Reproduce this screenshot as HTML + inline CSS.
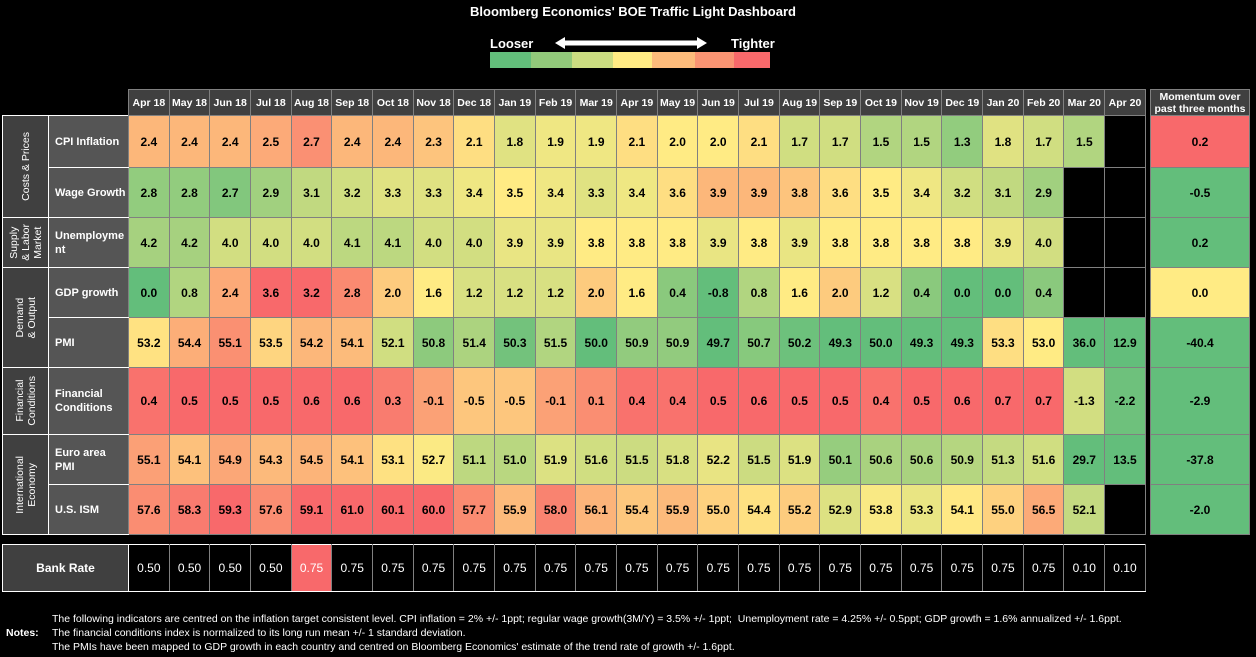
<!DOCTYPE html>
<html><head><meta charset="utf-8">
<style>
body{margin:0;background:#000;width:1256px;height:657px;overflow:hidden;position:relative;font-family:"Liberation Sans",Arial,sans-serif;}
.title{position:absolute;top:4px;left:0;width:1266px;text-align:center;color:#fff;font-weight:bold;font-size:13px;}
.lg{position:absolute;color:#fff;font-weight:bold;font-size:13px;}
table{border-collapse:collapse;position:absolute;table-layout:fixed;}
td{padding:0;text-align:center;font-size:12px;font-weight:bold;color:#000;border:1px solid #808080;overflow:hidden;}
th{padding:0;font-size:10.5px;font-weight:bold;color:#fff;background:#404040;border:1px solid #808080;white-space:nowrap;}
td.g{background:#404040;color:#fff;font-weight:normal;font-size:10.5px;border:1px solid #fff;}
td.g div{writing-mode:vertical-rl;transform:rotate(180deg);margin:auto;line-height:12px;}
td.l{background:#555;color:#fff;text-align:left;padding-left:6px;font-size:11px;white-space:nowrap;border-right:1px solid #808080;border-top:1px solid #fff;border-bottom:1px solid #fff;line-height:14px;}
td.bk{background:#000;}
.notes{position:absolute;color:#fff;font-size:10.5px;line-height:14px;}
</style></head><body>
<div class="title">Bloomberg Economics' BOE Traffic Light Dashboard</div>
<div class="lg" style="left:490px;top:36px;">Looser</div>
<div class="lg" style="left:731px;top:36px;">Tighter</div>
<svg style="position:absolute;left:553px;top:35px" width="160" height="16"><polygon points="2,8 12,2 12,5.5 144,5.5 144,2 154,8 144,14 144,10.5 12,10.5 12,14" fill="#fff"/></svg>
<div style="position:absolute;left:490px;top:52px;width:280px;height:16px;display:flex">
<div style="width:41px;background:#63be7b"></div><div style="width:41px;background:#92c97a"></div><div style="width:41px;background:#cbdc81"></div><div style="width:39px;background:#ffeb84"></div><div style="width:43px;background:#fdbb7b"></div><div style="width:39px;background:#fa9473"></div><div style="width:36px;background:#f8696b"></div></div>

<table id="main" style="left:2px;top:89px;width:1143px;">
<colgroup><col style="width:46px"><col style="width:80px">
<col span="25" style="width:40.68px"></colgroup>
<tr style="height:26px"><td style="border:none;background:#000" colspan="2"></td>
<th>Apr 18</th><th>May 18</th><th>Jun 18</th><th>Jul 18</th><th>Aug 18</th><th>Sep 18</th><th>Oct 18</th><th>Nov 18</th><th>Dec 18</th><th>Jan 19</th><th>Feb 19</th><th>Mar 19</th><th>Apr 19</th><th>May 19</th><th>Jun 19</th><th>Jul 19</th><th>Aug 19</th><th>Sep 19</th><th>Oct 19</th><th>Nov 19</th><th>Dec 19</th><th>Jan 20</th><th>Feb 20</th><th>Mar 20</th><th>Apr 20</th></tr>
<tr style="height:52px" data-c="2" data-s="1"><td class="g" rowspan="2"><div>Costs &amp; Prices</div></td><td class="l">CPI Inflation</td>
<td>2.4</td><td>2.4</td><td>2.4</td><td>2.5</td><td>2.7</td><td>2.4</td><td>2.4</td><td>2.3</td><td>2.1</td><td>1.8</td><td>1.9</td><td>1.9</td><td>2.1</td><td>2.0</td><td>2.0</td><td>2.1</td><td>1.7</td><td>1.7</td><td>1.5</td><td>1.5</td><td>1.3</td><td>1.8</td><td>1.7</td><td>1.5</td><td class="bk"></td></tr>
<tr style="height:50px" data-c="3.5" data-s="1"><td class="l">Wage Growth</td>
<td>2.8</td><td>2.8</td><td>2.7</td><td>2.9</td><td>3.1</td><td>3.2</td><td>3.3</td><td>3.3</td><td>3.4</td><td>3.5</td><td>3.4</td><td>3.3</td><td>3.4</td><td>3.6</td><td>3.9</td><td>3.9</td><td>3.8</td><td>3.6</td><td>3.5</td><td>3.4</td><td>3.2</td><td>3.1</td><td>2.9</td><td class="bk"></td><td class="bk"></td></tr>
<tr style="height:50px" data-c="3.8" data-s="-0.7"><td class="g"><div>Supply<br>&amp; Labor<br>Market</div></td><td class="l">Unemployme<br>nt</td>
<td>4.2</td><td>4.2</td><td>4.0</td><td>4.0</td><td>4.0</td><td>4.1</td><td>4.1</td><td>4.0</td><td>4.0</td><td>3.9</td><td>3.9</td><td>3.8</td><td>3.8</td><td>3.8</td><td>3.9</td><td>3.8</td><td>3.9</td><td>3.8</td><td>3.8</td><td>3.8</td><td>3.8</td><td>3.9</td><td>4.0</td><td class="bk"></td><td class="bk"></td></tr>
<tr style="height:50px" data-c="1.6" data-s="1.6"><td class="g" rowspan="2"><div>Demand<br>&amp; Output</div></td><td class="l">GDP growth</td>
<td>0.0</td><td>0.8</td><td>2.4</td><td>3.6</td><td>3.2</td><td>2.8</td><td>2.0</td><td>1.6</td><td>1.2</td><td>1.2</td><td>1.2</td><td>2.0</td><td>1.6</td><td>0.4</td><td>-0.8</td><td>0.8</td><td>1.6</td><td>2.0</td><td>1.2</td><td>0.4</td><td>0.0</td><td>0.0</td><td>0.4</td><td class="bk"></td><td class="bk"></td></tr>
<tr style="height:50px" data-c="53" data-s="3"><td class="l">PMI</td>
<td>53.2</td><td>54.4</td><td>55.1</td><td>53.5</td><td>54.2</td><td>54.1</td><td>52.1</td><td>50.8</td><td>51.4</td><td>50.3</td><td>51.5</td><td>50.0</td><td>50.9</td><td>50.9</td><td>49.7</td><td>50.7</td><td>50.2</td><td>49.3</td><td>50.0</td><td>49.3</td><td>49.3</td><td>53.3</td><td>53.0</td><td>36.0</td><td>12.9</td></tr>
<tr style="height:67px" data-c="-0.9" data-s="1.4"><td class="g"><div>Financial<br>Conditions</div></td><td class="l">Financial<br>Conditions</td>
<td>0.4</td><td>0.5</td><td>0.5</td><td>0.5</td><td>0.6</td><td>0.6</td><td>0.3</td><td>-0.1</td><td>-0.5</td><td>-0.5</td><td>-0.1</td><td>0.1</td><td>0.4</td><td>0.4</td><td>0.5</td><td>0.6</td><td>0.5</td><td>0.5</td><td>0.4</td><td>0.5</td><td>0.6</td><td>0.7</td><td>0.7</td><td>-1.3</td><td>-2.2</td></tr>
<tr style="height:50px" data-c="52.8" data-s="4"><td class="g" rowspan="2"><div>International<br>Economy</div></td><td class="l">Euro area<br>PMI</td>
<td>55.1</td><td>54.1</td><td>54.9</td><td>54.3</td><td>54.5</td><td>54.1</td><td>53.1</td><td>52.7</td><td>51.1</td><td>51.0</td><td>51.9</td><td>51.6</td><td>51.5</td><td>51.8</td><td>52.2</td><td>51.5</td><td>51.9</td><td>50.1</td><td>50.6</td><td>50.6</td><td>50.9</td><td>51.3</td><td>51.6</td><td>29.7</td><td>13.5</td></tr>
<tr style="height:50px" data-c="54" data-s="5"><td class="l">U.S. ISM</td>
<td>57.6</td><td>58.3</td><td>59.3</td><td>57.6</td><td>59.1</td><td>61.0</td><td>60.1</td><td>60.0</td><td>57.7</td><td>55.9</td><td>58.0</td><td>56.1</td><td>55.4</td><td>55.9</td><td>55.0</td><td>54.4</td><td>55.2</td><td>52.9</td><td>53.8</td><td>53.3</td><td>54.1</td><td>55.0</td><td>56.5</td><td>52.1</td><td class="bk"></td></tr>
</table>

<table style="left:1150px;top:89px;width:100px;">
<tr style="height:26px"><th style="line-height:12px;font-size:10.5px">Momentum over<br>past three months</th></tr>
<tr style="height:52px"><td style="background:#f8696b">0.2</td></tr>
<tr style="height:50px"><td style="background:#63be7b">-0.5</td></tr>
<tr style="height:50px"><td style="background:#63be7b">0.2</td></tr>
<tr style="height:50px"><td style="background:#ffeb84">0.0</td></tr>
<tr style="height:50px"><td style="background:#63be7b">-40.4</td></tr>
<tr style="height:67px"><td style="background:#63be7b">-2.9</td></tr>
<tr style="height:50px"><td style="background:#63be7b">-37.8</td></tr>
<tr style="height:50px"><td style="background:#63be7b">-2.0</td></tr>
</table>

<table id="bank" style="left:2px;top:544px;width:1143px;">
<colgroup><col style="width:126px"><col span="25" style="width:40.68px"></colgroup>
<tr style="height:47px"><td style="background:#404040;color:#fff;border:1px solid #fff">Bank Rate</td>
<td>0.50</td><td>0.50</td><td>0.50</td><td>0.50</td><td style="background:#f8696b">0.75</td><td>0.75</td><td>0.75</td><td>0.75</td><td>0.75</td><td>0.75</td><td>0.75</td><td>0.75</td><td>0.75</td><td>0.75</td><td>0.75</td><td>0.75</td><td>0.75</td><td>0.75</td><td>0.75</td><td>0.75</td><td>0.75</td><td>0.75</td><td>0.75</td><td>0.10</td><td>0.10</td></tr>
</table>

<div class="notes" style="left:52px;top:612px;">The following indicators are centred on the inflation target consistent level. CPI inflation = 2% +/- 1ppt; regular wage growth(3M/Y) = 3.5% +/- 1ppt;&nbsp; Unemployment rate = 4.25% +/- 0.5ppt; GDP growth = 1.6% annualized +/- 1.6ppt.<br>The financial conditions index is normalized to its long run mean +/- 1 standard deviation.<br>The PMIs have been mapped to GDP growth in each country and centred on Bloomberg Economics' estimate of the trend rate of growth +/- 1.6ppt.</div>
<div class="notes" style="left:6px;top:626px;font-weight:bold;">Notes:</div>

<script>
function mix(a,b,t){return a.map((v,i)=>Math.round(v+(b[i]-v)*t));}
var G=[99,190,123],Y=[255,235,132],R=[248,105,107];
document.querySelectorAll('#main tr[data-c]').forEach(function(tr){
 var c=parseFloat(tr.dataset.c),s=parseFloat(tr.dataset.s);
 tr.querySelectorAll('td').forEach(function(td){
  if(td.className) return;
  var v=parseFloat(td.textContent); if(isNaN(v)) return;
  var t=Math.max(-1,Math.min(1,(v-c)/s));
  var col=t<0?mix(Y,G,-t):mix(Y,R,t);
  td.style.background='rgb('+col.join(',')+')';
 });
});
document.querySelectorAll('#bank td').forEach(function(td,i){
 if(i>0){td.style.fontWeight='normal';td.style.color='#fff';if(!td.style.background)td.style.background='#000';td.style.borderTop='1px solid #fff';td.style.borderBottom='1px solid #fff';}
});
</script>
</body></html>
